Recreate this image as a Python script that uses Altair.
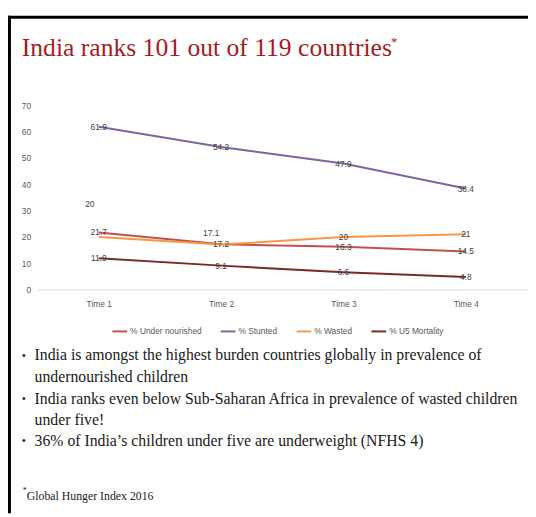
import altair as alt
import pandas as pd

times = ["Time 1", "Time 2", "Time 3", "Time 4"]
series_names = ["% Under nourished", "% Stunted", "% Wasted", "% U5 Mortality"]
under_nourished = [21.7, 17.2, 16.3, 14.5]
stunted = [61.9, 54.2, 47.9, 38.4]
wasted = [20, 17.1, 20, 21]
u5_mortality = [11.9, 9.1, 6.6, 4.8]
series_colors = ["#c0504d", "#8064a2", "#f79646", "#772c2a"]
y_ticks = [0, 10, 20, 30, 40, 50, 60, 70]

title_text = "India ranks 101 out of 119 countries"
bullets = [
    "India is amongst the highest burden countries globally in prevalence of",
    "undernourished children",
    "India ranks even below Sub-Saharan Africa in prevalence of wasted children",
    "under five!",
    "36% of India\u2019s children under five are underweight (NFHS 4)",
]
bullet_starts = [True, False, True, False, True]
footnote = "Global Hunger Index 2016"

rows = []
for name, vals in zip(series_names, [under_nourished, stunted, wasted, u5_mortality]):
    for t, v in zip(times, vals):
        rows.append({"series": name, "time": t, "value": v})
df = pd.DataFrame(rows)

W, H = 497, 187
LABEL_FONT = "Liberation Sans"
SERIF = "Liberation Serif"

x_enc = alt.X("time:N", sort=times, title=None,
              axis=alt.Axis(labelAngle=0, ticks=False, domainColor="#d9d9d9", domainWidth=1,
                            labelFont=LABEL_FONT, labelFontSize=8.5, labelColor="#595959",
                            labelPadding=10))
y_enc = alt.Y("value:Q", title=None,
              scale=alt.Scale(domain=[0, 70], nice=False),
              axis=alt.Axis(values=y_ticks, tickCount=8, ticks=False, domain=False,
                            labelOverlap=False, grid=False, labelFont=LABEL_FONT,
                            labelFontSize=8.5, labelColor="#595959", labelPadding=7))
color_enc = alt.Color("series:N", sort=series_names,
                      scale=alt.Scale(domain=series_names, range=series_colors),
                      legend=alt.Legend(title=None, orient="none", direction="horizontal",
                                        legendX=75, legendY=221, symbolType="stroke",
                                        symbolSize=225, symbolStrokeWidth=2,
                                        labelFont=LABEL_FONT, labelFontSize=8.5,
                                        labelColor="#595959", labelOffset=2,
                                        columnPadding=15))

base = alt.Chart(df)
lines = base.mark_line(strokeWidth=2).encode(x=x_enc, y=y_enc, color=color_enc,
                                              order=alt.Order("time:N"))

label_common = dict(fontSize=8.5, font=LABEL_FONT, color="#404040")
lbl_text = alt.Text("value:Q", format=".1~f")
labels = base.mark_text(**label_common).transform_filter(
    "!(datum.series == '% Wasted' && (datum.time == 'Time 1' || datum.time == 'Time 2'))"
).encode(x=x_enc, y=y_enc, text=lbl_text)
labels_w1 = base.mark_text(dx=-9, dy=-33, **label_common).transform_filter(
    "datum.series == '% Wasted' && datum.time == 'Time 1'"
).encode(x=x_enc, y=y_enc, text=lbl_text)
labels_w2 = base.mark_text(dx=-10, dy=-12, **label_common).transform_filter(
    "datum.series == '% Wasted' && datum.time == 'Time 2'"
).encode(x=x_enc, y=y_enc, text=lbl_text)

one = alt.Data(values=[{"k": 1}])

def txt(text, x, y, size, color, font=SERIF, baseline="middle"):
    return alt.Chart(one).mark_text(text=text, align="left", baseline=baseline,
                                    fontSize=size, font=font, color=color).encode(
        x=alt.value(x), y=alt.value(y))

layers = [lines, labels, labels_w1, labels_w2]

# frame
layers.append(alt.Chart(one).mark_rule(color="black", strokeWidth=3).encode(
    x=alt.value(-30), x2=alt.value(498), y=alt.value(-89.5)))
layers.append(alt.Chart(one).mark_rule(color="black", strokeWidth=3).encode(
    x=alt.value(-28.5), y=alt.value(-91), y2=alt.value(414)))

# title
layers.append(txt(title_text, -16, -50, 26, "#a51c22", baseline="alphabetic"))
layers.append(txt("*", 359, -60, 13, "#a51c22", baseline="alphabetic"))

# bullets
bullet_y = [254, 276, 298, 319, 341]
for line, start, yy in zip(bullets, bullet_starts, bullet_y):
    if start:
        layers.append(txt("\u2022", -16, yy, 12, "#1a1a1a"))
    layers.append(txt(line, -3, yy, 16, "#1a1a1a"))

# footnote
layers.append(txt("*", -15, 392, 8, "#1a1a1a"))
layers.append(txt(footnote, -11, 397, 12, "#1a1a1a"))

chart = alt.layer(*layers).properties(
    width=W, height=H,
    padding={"left": 30, "top": 95, "right": 1, "bottom": 226},
    autosize=alt.AutoSizeParams(type="none"),
    background="white",
).configure_view(stroke=None)

chart.save("out.html", embed_options={"renderer": "svg", "actions": False})
